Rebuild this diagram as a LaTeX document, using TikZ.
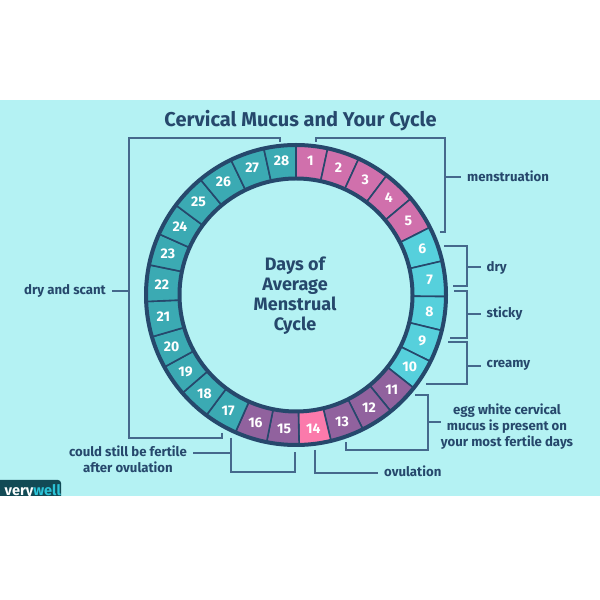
\documentclass[tikz,border=0pt]{standalone}
\usepackage{fontspec}
\setmainfont{Fira Sans}
\usepackage{xcolor}
\definecolor{bandbg}{HTML}{B4F2F3}
\definecolor{inkblue}{HTML}{26486C}
\definecolor{bracketblue}{HTML}{45698C}
\definecolor{pinkday}{HTML}{D070AC}
\definecolor{cyanday}{HTML}{56D0DC}
\definecolor{tealday}{HTML}{3BAAB3}
\definecolor{purpleday}{HTML}{91629E}
\definecolor{ovuday}{HTML}{FB7AAB}
\definecolor{logobg}{HTML}{124A55}
\definecolor{logocyan}{HTML}{2CC4D8}
\tikzset{
  bracket/.style={draw=bracketblue, line width=1.1pt},
  lbl/.style={text=inkblue, font=\fontsize{13.2}{16}\selectfont\bfseries, align=center, inner sep=6pt},
  daynum/.style={text=white, font=\fontsize{14}{14}\selectfont\bfseries, inner sep=0pt},
}
\begin{document}
\begin{tikzpicture}[x=1pt,y=1pt]
      \useasboundingbox (0,0) rectangle (600,600);
      \fill[white] (0,0) rectangle (600,600);
      \fill[bandbg] (0,104) rectangle (600,500);

      % logo tab, cut off by the lower edge of the band
      \begin{scope}
        \clip (0,104) rectangle (61,121);
        \fill[logobg, rounded corners=3pt] (-5,90) rectangle (61,120);
        \node[anchor=base west, inner sep=0pt, font=\fontsize{14.5}{14}\selectfont\bfseries] (logo) at (4.5,104.5) {\textcolor{white}{very}\textcolor{logocyan}{well}};
      \end{scope}

      \node[text=inkblue, font=\fontsize{20}{24}\selectfont\bfseries, inner sep=0pt] (title) at (300.5,479) {Cervical Mucus and Your Cycle};

      % ring of days: number/colour/start angle/end angle
      \begin{scope}[shift={(296,305)}]
        \foreach \d/\c/\a/\b in {1/pinkday/90/77.8,2/pinkday/77.8/65.3,3/pinkday/65.3/52.8,
            4/pinkday/52.8/40,5/pinkday/40/26.8,6/cyanday/26.8/13.1,7/cyanday/13.1/-0.6,
            8/cyanday/-0.6/-13.7,9/cyanday/-13.7/-26.3,10/cyanday/-26.3/-38.3,
            11/purpleday/-38.3/-50.8,12/purpleday/-50.8/-63.5,13/purpleday/-63.5/-76.5,
            14/ovuday/-76.5/-88.8,15/purpleday/-88.8/-101.3,16/purpleday/-101.3/-113.8,
            17/tealday/-113.8/-126.7,18/tealday/-126.7/-139.2,19/tealday/-139.2/-151.3,
            20/tealday/-151.3/-163.8,21/tealday/-163.8/-177.5,22/tealday/-177.5/-191.6,
            23/tealday/-191.6/-204,24/tealday/-204/-216.8,25/tealday/-216.8/-230.4,
            26/tealday/-230.4/-244.3,27/tealday/-244.3/-257.6,28/tealday/-257.6/-270} {
          \pgfmathsetmacro\midang{(\a+\b)/2}
          \filldraw[fill=\c, draw=inkblue, line width=1.6pt] (\a:116.5) -- (\a:150)
            arc[start angle=\a, end angle=\b, radius=150]
            -- (\b:116.5)
            arc[start angle=\b, end angle=\a, radius=116.5] -- cycle;
          \node[daynum] (day\d) at (\midang:134.5) {\d};
        }
        \draw[inkblue, line width=4pt] (0,0) circle[radius=150];
        \draw[inkblue, line width=4pt] (0,0) circle[radius=116.5];
      \end{scope}

      \node[text=inkblue, font=\fontsize{18}{20}\selectfont\bfseries, align=center, inner sep=0pt] (centre) at (295,304.5)
        {Days of\\Average\\Menstrual\\Cycle};

      % brackets and their labels
      \coordinate (mensA) at (316,458);
      \coordinate (mensStem) at (445,423);
      \coordinate (mensB) at (440,368);
      \node[lbl, anchor=west] (mens) at (461,424) {menstruation};
      \draw[bracket] (mensA) -- ++(0,4) -| (mensStem) |- (mensB);
      \draw[bracket] (mensStem) -- (mensStem -| mens.west);

      \coordinate (dryA) at (444,354);
      \coordinate (dryStem) at (467,333);
      \coordinate (dryB) at (453,314);
      \node[lbl, anchor=west] (dry) at (480.5,332.5) {dry};
      \draw[bracket] (dryA) -| (dryStem) |- (dryB);
      \draw[bracket] (dryStem) -- (dryStem -| dry.west);

      \coordinate (stickyA) at (454,309);
      \coordinate (stickyStem) at (467,286);
      \coordinate (stickyB) at (450,262);
      \node[lbl, anchor=west] (sticky) at (480.5,286.5) {sticky};
      \draw[bracket] (stickyA) -| (stickyStem) |- (stickyB);
      \draw[bracket] (stickyStem) -- (stickyStem -| sticky.west);

      \coordinate (creamyA) at (448,258);
      \coordinate (creamyStem) at (467,234);
      \coordinate (creamyB) at (426,216);
      \node[lbl, anchor=west] (creamy) at (480.5,234.5) {creamy};
      \draw[bracket] (creamyA) -| (creamyStem) |- (creamyB);
      \draw[bracket] (creamyStem) -- (creamyStem -| creamy.west);

      \coordinate (eggA) at (415,205);
      \coordinate (eggStem) at (428,178);
      \coordinate (eggB) at (346,158);
      \node[lbl, inner sep=0pt] (egg) at (507,173.5) {egg white cervical\\mucus is present on\\your most fertile days};
      \draw[bracket] (eggA) -| (eggStem) |- (eggB |- 0,150) -- (eggB);
      \draw[bracket] (eggStem) -- (eggStem -| egg.west);

      \coordinate (ovuA) at (315,150);
      \coordinate (ovuStem) at (315,127);
      \node[lbl, anchor=west] (ovu) at (378,129) {ovulation};
      \draw[bracket] (ovuA) |- (ovuStem -| ovu.west);

      \coordinate (couldA) at (231,162);
      \coordinate (couldB) at (295,148);
      \coordinate (couldStem) at (231,147);
      \node[lbl, anchor=east] (could) at (193,140.5) {could still be fertile\\after ovulation};
      \draw[bracket] (couldA) -- ++(0,-34) -| (couldB);
      \draw[bracket] (couldStem) -- (couldStem -| could.east);

      \coordinate (scantA) at (222,167);
      \coordinate (scantStem) at (129,309);
      \coordinate (scantB) at (280,458);
      \node[lbl, anchor=east] (scant) at (112,309) {dry and scant};
      \draw[bracket] (scantA) -- ++(0,-5) -| (scantStem) |- (scantB |- 0,462) -- (scantB);
      \draw[bracket] (scantStem) -- (scantStem -| scant.east);
\end{tikzpicture}
\end{document}
